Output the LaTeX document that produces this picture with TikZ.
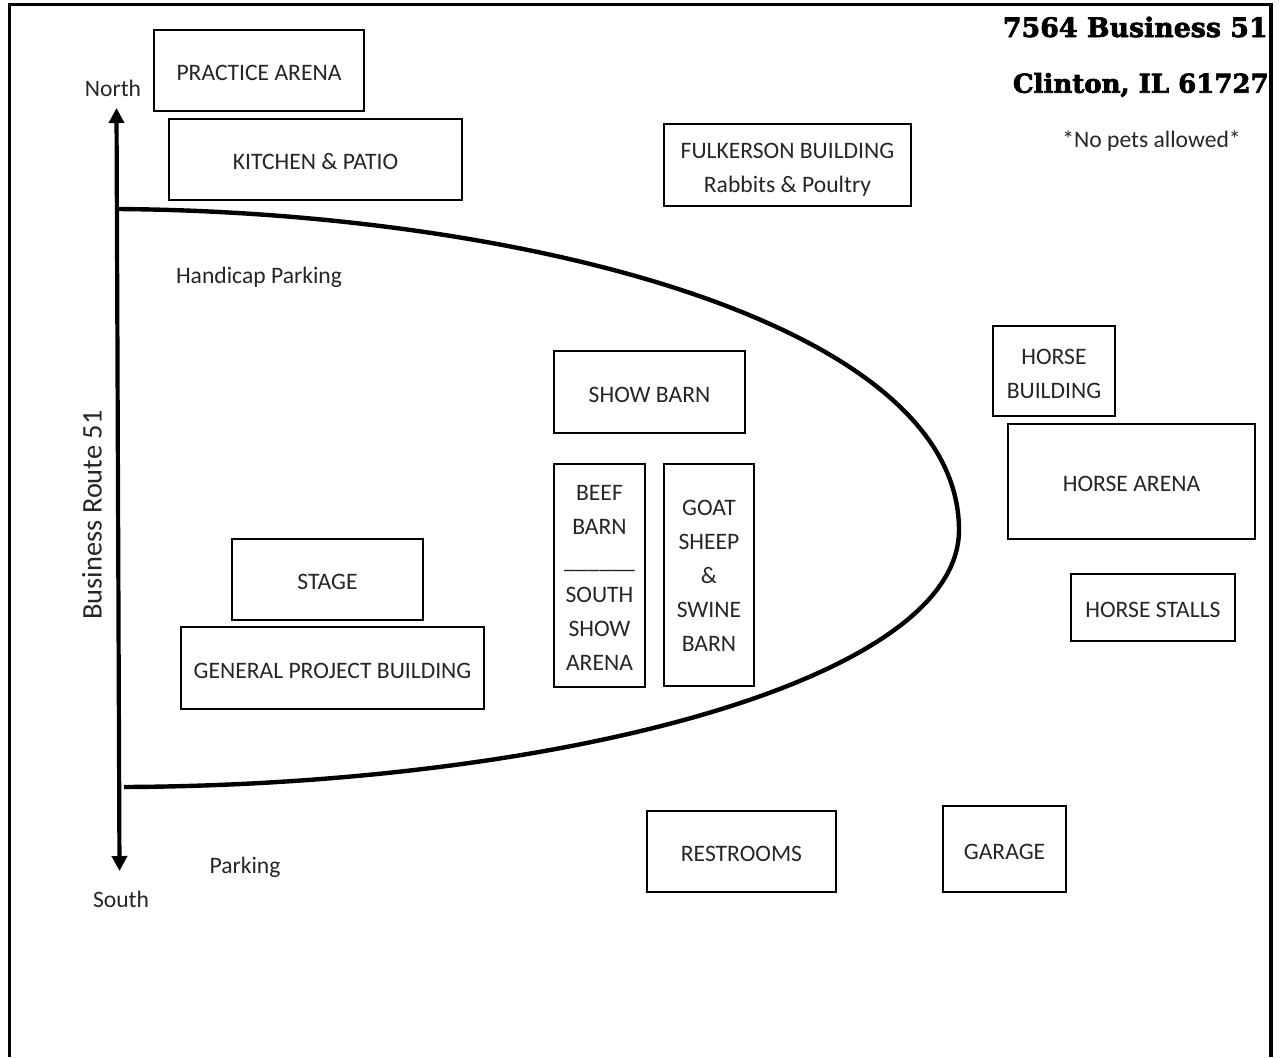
\documentclass[tikz,border=0pt]{standalone}
\usepackage{fontspec}
\setmainfont{Carlito}
\newfontfamily\hdrfont[BoldFeatures={FakeBold=2.5}]{DejaVu Serif}
\usetikzlibrary{arrows.meta}
\definecolor{ink}{HTML}{262626}
\tikzset{
  px/.style={x=0.5pt,y=-0.5pt},
  bx/.style={draw=black,line width=1.2pt,inner sep=0pt,align=center,text=ink,font=\fontsize{11.8}{17}\selectfont},
  lbl/.style={inner sep=0pt,text=ink,align=center,font=\fontsize{11.8}{17}\selectfont},
  hdr/.style={inner sep=0pt,text=black,anchor=east,font=\hdrfont\bfseries\fontsize{13.4}{15}\selectfont},
  road/.style={line width=2.1pt,{Triangle[length=7.5pt,width=7.5pt]}-{Triangle[length=7.5pt,width=7.5pt]}},
  loop/.style={line width=2.2pt,line cap=butt},
  frame/.style={line width=1.8pt}
}
\newcommand{\bx}[6]{\node[bx,minimum width=#4*0.5pt,minimum height=#5*0.5pt] (#1) at (#2,#3) {\rule{0pt}{12pt}#6\rule[-1.6pt]{0pt}{1.6pt}};}
\begin{document}
\begin{tikzpicture}[px]
\useasboundingbox (0,0) rectangle (1281,1057);
\fill[white] (0,0) rectangle (1281,1057);
\coordinate (fa) at (9.5,1057);
\coordinate (fb) at (9.5,4.5);
\coordinate (fc) at (1271,4.5);
\coordinate (fd) at (1271,1057);
\draw[frame] (fa) -- (fb) -- (fc) -- (fd);
\bx{practice}{259}{70.5}{210}{81}{PRACTICE ARENA}
\bx{kitchen}{315.5}{159.5}{293}{81}{KITCHEN \& PATIO}
\bx{fulkerson}{787.5}{165}{247}{82}{FULKERSON BUILDING\\Rabbits \& Poultry}
\bx{showbarn}{649.5}{392}{191}{82}{SHOW BARN}
\bx{beef}{599.5}{575.5}{91}{223}{BEEF\\BARN\\\_\_\_\_\_\_\\SOUTH\\SHOW\\ARENA}
\bx{goat}{709}{575}{90}{222}{GOAT\\SHEEP\\\&\\SWINE\\BARN\rule[-3.6pt]{0pt}{1pt}}
\bx{stage}{327.5}{579.5}{191}{81}{STAGE}
\bx{general}{332.5}{668}{303}{82}{GENERAL PROJECT BUILDING}
\bx{horseb}{1054}{371}{122}{90}{HORSE\\BUILDING}
\bx{horsea}{1131.5}{481.5}{247}{115}{HORSE ARENA}
\bx{horses}{1153}{607.5}{164}{67}{HORSE STALLS}
\bx{rest}{741.5}{851.5}{189}{81}{RESTROOMS}
\bx{garage}{1004.5}{849}{123}{86}{GARAGE}
\node[lbl] (north) at (113,88) {North};
\node[lbl] (south) at (121,899) {South};
\node[lbl] (hcp) at (259,277) {Handicap Parking};
\node[lbl] (park) at (245,867) {Parking};
\node[lbl] (pets) at (1151.5,141) {*No pets allowed*};
\node[lbl,rotate=90,font=\fontsize{14.2}{16}\selectfont] (route) at (92,515) {Business Route 51};
\node[hdr] (addr) at (1268,27) {7564 Business 51};
\node[hdr,font=\hdrfont\bfseries\fontsize{13}{15}\selectfont] (city) at (1269,85) {Clinton, IL 61727};
\coordinate (rtop) at (116.5,108);
\coordinate (rbot) at (119.5,871);
\draw[road] (rtop) -- (rbot);
\coordinate (ca) at (118,209);
\coordinate (cb) at (959,530);
\coordinate (cc) at (124,787);
\draw[loop] (ca) .. controls (520,212) and (959,322) .. (cb);
\draw[loop] (cb) .. controls (959,680) and (560,785) .. (cc);
\end{tikzpicture}
\end{document}
